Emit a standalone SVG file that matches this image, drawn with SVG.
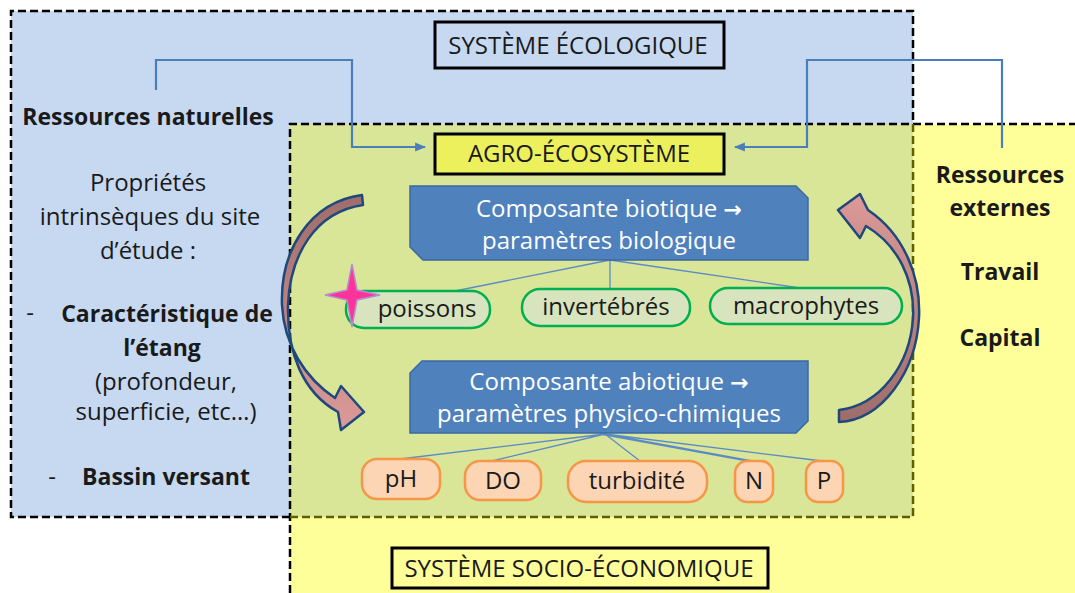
<svg xmlns="http://www.w3.org/2000/svg" width="1075" height="593" viewBox="0 0 1075 593">
<style>
text{font-family:"Open Sans","Liberation Sans",sans-serif;fill:#1a1a1a}
.t{font-size:24px;text-anchor:middle}
.b{font-weight:bold;font-size:23px}
.w{fill:#ffffff;font-size:24px;text-anchor:middle}
.ar{font-family:"DejaVu Sans",sans-serif;font-weight:bold;font-size:22px}
.cap{font-size:24px;text-anchor:middle}
.lbl{fill:none;stroke:#000;stroke-width:3}
.dash{fill:none;stroke:#000;stroke-width:2.5;stroke-dasharray:8 4}
.dashol{fill:none;stroke:#5f5f00;stroke-width:2.5;stroke-dasharray:8 4}
.conn{fill:none;stroke:#4a7ebb;stroke-width:2.2}
.tree{fill:none;stroke:#5b8ac8;stroke-width:1.3}
.gp{fill:#d7e4bd;stroke:#00b050;stroke-width:2.5}
.op{fill:#fcd5b5;stroke:#f79646;stroke-width:2.5}
.box{fill:#4f81bd;stroke:#3a6aa3;stroke-width:1.5}
.carrow{stroke:#1f497d;stroke-width:2.5;stroke-linejoin:round}
</style>
<defs>
<marker id="ah" viewBox="0 0 10 10" refX="9" refY="5" markerWidth="5" markerHeight="5" orient="auto"><path d="M0,1 L10,5 L0,9 z" fill="#4a7ebb"/></marker>
<linearGradient id="gl" gradientUnits="userSpaceOnUse" x1="0" y1="195" x2="0" y2="420"><stop offset="0" stop-color="#9e6d6b"/><stop offset="1" stop-color="#da9896"/></linearGradient>
<linearGradient id="gr" gradientUnits="userSpaceOnUse" x1="0" y1="420" x2="0" y2="200"><stop offset="0" stop-color="#9e6d6b"/><stop offset="1" stop-color="#da9896"/></linearGradient>
</defs>
<rect width="1075" height="593" fill="#ffffff"/>
<g id="regions">
<rect x="11" y="11" width="902" height="506" fill="#c6d9f1"/>
<rect x="290" y="124" width="790" height="475" fill="#ffff99"/>
<rect x="290" y="124" width="623" height="393" fill="#d9e597"/>
<path class="dash" d="M290,517 L11,517 L11,11 L913,11 L913,124"/>
<path class="dash" d="M290,593 L290,124 L1078,124"/>
<path class="dashol" d="M913,124 L913,517 L290,517"/>
</g>
<g id="eco-label"><rect class="lbl" x="435" y="22" width="289" height="46" fill="none"/><text class="cap" x="578" y="54">SYSTÈME ÉCOLOGIQUE</text></g>
<g id="socio-label"><rect class="lbl" x="392" y="548" width="376" height="40" fill="none"/><text class="cap" x="579" y="577">SYSTÈME SOCIO-ÉCONOMIQUE</text></g>
<g id="agro"><rect x="435" y="134" width="289" height="40" fill="#ecf05c" stroke="#000" stroke-width="3"/><text class="cap" x="579" y="162">AGRO-ÉCOSYSTÈME</text></g>
<g id="connectors">
<path class="conn" marker-end="url(#ah)" d="M156,90 L156,60 L352,60 L352,147 L425,147"/>
<path class="conn" marker-end="url(#ah)" d="M1002,148 L1002,60 L807,60 L807,147 L735,147"/>
<path class="tree" d="M610,260 L455,291 M610,260 L610,289 M610,260 L800,288"/>
<path class="tree" d="M605,434 L400,459 M605,434 L492,461 M605,434 L640,461 M605,434 L752,461 M605,434 L822,461 M600,434 L748,461"/>
</g>
<g id="left-text">
<text class="t b" x="148" y="125">Ressources naturelles</text>
<text class="t" x="148" y="191">Propriétés</text>
<text class="t" x="150" y="225">intrinsèques du site</text>
<text class="t" x="148" y="259">d’étude :</text>
<text class="t" x="30" y="321">-</text>
<text class="t b" x="167" y="322">Caractéristique de</text>
<text class="t b" x="162" y="356">l’étang</text>
<text class="t" x="166" y="390">(profondeur,</text>
<text class="t" x="166" y="420">superficie, etc…)</text>
<text class="t" x="52" y="485">-</text>
<text class="t b" x="166" y="485">Bassin versant</text>
</g>
<g id="right-text">
<text class="t b" x="1000" y="183">Ressources</text>
<text class="t b" x="1000" y="216">externes</text>
<text class="t b" x="1000" y="280">Travail</text>
<text class="t b" x="1000" y="346">Capital</text>
</g>
<g id="biotic"><path class="box" d="M410,186 L796,186 L808,198 L808,260 L423,260 L410,247 Z"/><text class="w" x="609" y="217">Composante biotique <tspan class="ar">→</tspan></text><text class="w" x="609" y="249">paramètres biologique</text></g>
<g id="abiotic"><path class="box" d="M422,361 L808,361 L808,421 L796,433 L410,433 L410,373 Z"/><text class="w" x="609" y="390">Composante abiotique <tspan class="ar">→</tspan></text><text class="w" x="609" y="422">paramètres physico-chimiques</text></g>
<g id="poissons"><rect class="gp" x="346" y="291" width="144" height="37" rx="18"/><text class="t" x="427" y="317">poissons</text></g>
<g id="invertebres"><rect class="gp" x="522" y="289" width="168" height="37" rx="18"/><text class="t" x="606" y="315">invertébrés</text></g>
<g id="macrophytes"><rect class="gp" x="710" y="288" width="192" height="36" rx="18"/><text class="t" x="806" y="314">macrophytes</text></g>
<g id="pH"><rect class="op" x="362" y="459" width="78" height="40" rx="15"/><text class="t" x="401" y="487">pH</text></g>
<g id="DO"><rect class="op" x="465" y="461" width="76" height="39" rx="15"/><text class="t" x="503" y="489">DO</text></g>
<g id="turbidite"><rect class="op" x="568" y="461" width="139" height="41" rx="18"/><text class="t" x="637" y="489">turbidité</text></g>
<g id="N"><rect class="op" x="735" y="461" width="38" height="41" rx="12"/><text class="t" x="754" y="489">N</text></g>
<g id="P"><rect class="op" x="806" y="461" width="37" height="41" rx="12"/><text class="t" x="824" y="489">P</text></g>
<g id="cycle-arrows">
<path class="carrow" fill="url(#gl)" d="M362,195 C310,202 280,250 282,305 C284,345 305,378 335,398 L341,386 L364,412 L341,430 L338,412 C302,392 287,352 288,305 C290,255 315,212 363,205 Z"/>
<path class="carrow" fill="url(#gr)" d="M839,410 C880,405 910,365 913,318 C915,280 898,245 866,226 L860,238 L838,210 L860,194 L868,210 C905,235 921,278 919,318 C916,372 882,420 839,422 Z"/>
</g>
<g id="star"><path d="M352,264 L357,290 L380,295 L357,300 L352,327 L347,300 L325,295 L347,290 Z" fill="#ff3399" stroke="#b08fd0" stroke-width="1.5"/></g>
</svg>
